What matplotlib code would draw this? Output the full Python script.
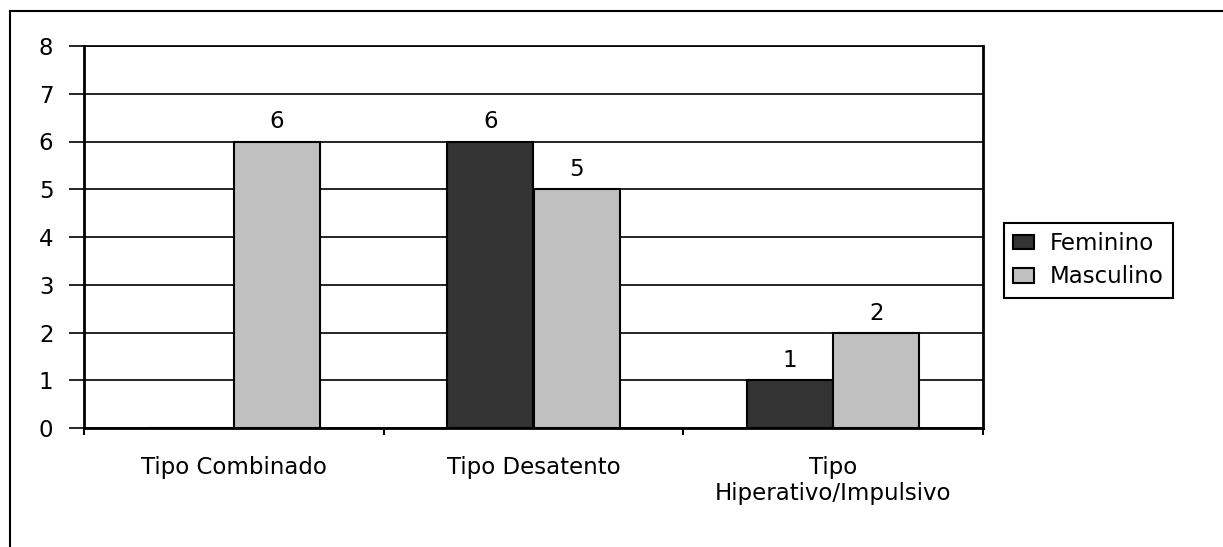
import matplotlib.pyplot as plt
from matplotlib.lines import Line2D
import numpy as np

plt.rcParams['font.family'] = ['DejaVu Sans']

categories = ['Tipo Combinado', 'Tipo Desatento', 'Tipo\nHiperativo/Impulsivo']
feminino = [0, 6, 1]
masculino = [6, 5, 2]
series = [('Feminino', feminino, '#333333'), ('Masculino', masculino, '#c0c0c0')]

W, H = 1223, 547
fig = plt.figure(figsize=(W / 100, H / 100), dpi=100)
ax = fig.add_axes([84 / W, 1 - 428 / H, (983 - 84) / W, (428 - 46) / H])

x = np.arange(len(categories))
bw = 0.287
fs = 16.5
for i, (name, vals, col) in enumerate(series):
    off = (i - 0.5) * bw
    bars = ax.bar(x + off, vals, bw, color=col, edgecolor='black', linewidth=1.5,
                  label=name, zorder=3)
    for b, v in zip(bars, vals):
        if v > 0:
            ax.annotate(str(v), (b.get_x() + b.get_width() / 2, v), xytext=(0, 8),
                        textcoords='offset pixels', ha='center', va='bottom', fontsize=fs)

ax.set_xlim(-0.5, 2.5)
ax.set_ylim(0, 8)
ax.set_yticks(range(0, 9))
ax.yaxis.grid(True, color='black', linewidth=1.2, zorder=0)
ax.set_axisbelow(True)
ax.tick_params(axis='y', direction='out', length=11, width=1.2, labelsize=fs, pad=11)
ax.set_xticks(x)
ax.set_xticklabels(categories, fontsize=fs, linespacing=1.2)
ax.tick_params(axis='x', which='major', length=0, pad=20)
ax.set_xticks(np.arange(-0.5, 3, 1), minor=True)
ax.tick_params(axis='x', which='minor', direction='out', length=5, width=1.5)
for s in ['left', 'bottom', 'right']:
    ax.spines[s].set_linewidth(2)
ax.spines['top'].set_linewidth(1.2)

leg = fig.legend(loc='upper left', bbox_to_anchor=(1004 / W, 1 - 223 / H), borderaxespad=0,
                 fontsize=fs, frameon=True, fancybox=False, edgecolor='black', framealpha=1,
                 handlelength=0.9, handleheight=0.6, handletextpad=0.7,
                 borderpad=0.4, labelspacing=0.45)
leg.get_frame().set_linewidth(1.5)

# outer chart border (only top and left edges visible)
fig.add_artist(Line2D([10 / W, 10 / W], [0, 1 - 11 / H], color='black', linewidth=1.5))
fig.add_artist(Line2D([10 / W, 1], [1 - 11 / H, 1 - 11 / H], color='black', linewidth=1.5))

fig.savefig('out.png', dpi=100)
